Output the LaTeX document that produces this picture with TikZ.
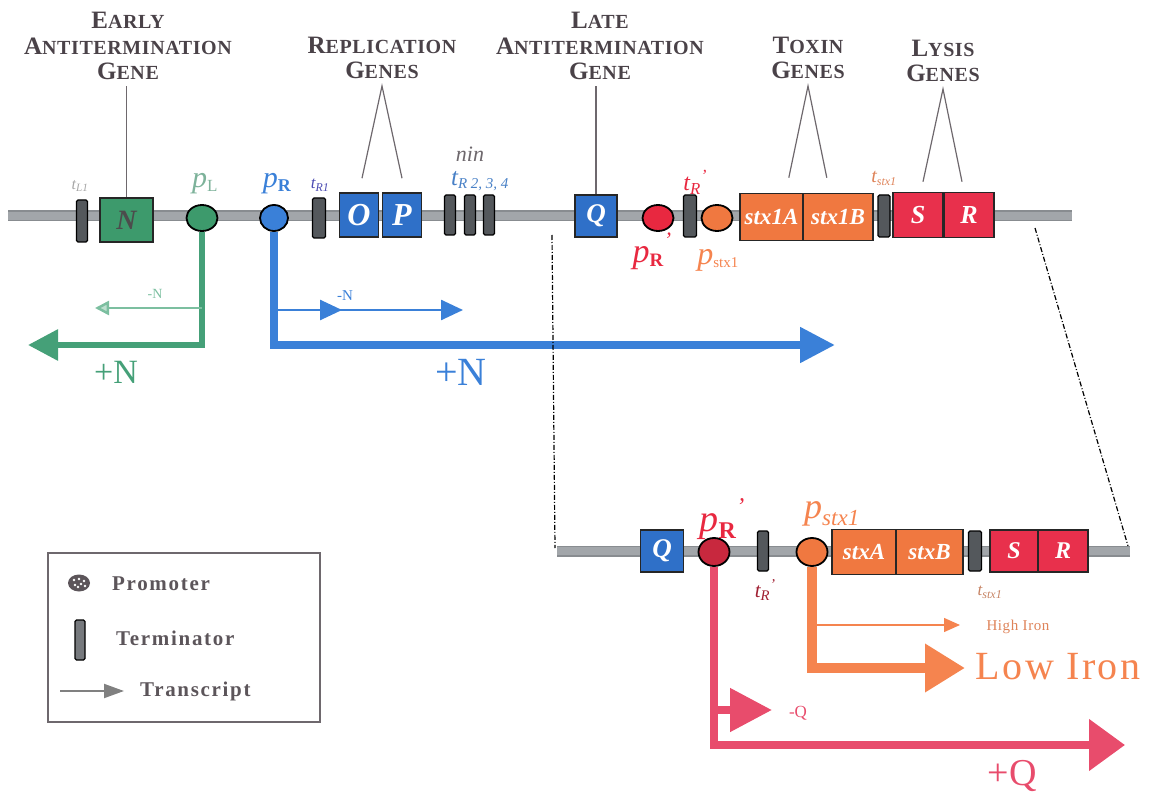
\documentclass[tikz,border=0pt]{standalone}
\usepackage{fontspec}
\setmainfont{Liberation Serif}
\usetikzlibrary{arrows.meta,shapes.geometric,calc,decorations.markings}
\newcommand\fsz[1]{\fontsize{#1}{#1}\selectfont}
\newcommand\capsw[2]{{\fontsize{25}{25.5}\selectfont #1}{\fontsize{20}{25.5}\selectfont #2}}
\definecolor{dnagray}{HTML}{A2A6AA}
\definecolor{dnaedge}{HTML}{888C90}
\definecolor{termgray}{HTML}{54585C}
\definecolor{labgray}{HTML}{4A4248}
\definecolor{gbox}{HTML}{3D9A6C}
\definecolor{garrow}{HTML}{45A078}
\definecolor{glight}{HTML}{7CBFA0}
\definecolor{bbox}{HTML}{2F70C8}
\definecolor{barrow}{HTML}{3A80D8}
\definecolor{rprom}{HTML}{E82840}
\definecolor{rdark}{HTML}{C8283E}
\definecolor{parrow}{HTML}{E84C6C}
\definecolor{obox}{HTML}{F07840}
\definecolor{oarrow}{HTML}{F5844F}
\definecolor{crim}{HTML}{E8304C}
\begin{document}
\begin{tikzpicture}[x=1pt,y=-1pt,
  gene/.style={draw=black!85,line width=1.6pt,inner sep=0pt,minimum height=44pt,
    font=\fsz{30}\bfseries\itshape,text=white},
  term/.style={draw=black,fill=termgray,line width=1.2pt,rounded corners=1.5pt,
    minimum width=11pt,minimum height=40pt,inner sep=0pt},
  prom/.style={ellipse,draw=black,line width=1.8pt,minimum width=31pt,
    minimum height=26pt,inner sep=0pt},
  head/.style={font=\fontsize{20}{25.5}\selectfont\bfseries\addfontfeature{LetterSpace=3},text=labgray,align=center,inner sep=0pt},
  ptr/.style={draw=labgray!80,line width=1.2pt},
  zoomln/.style={draw=black,line width=1.2pt,dash pattern=on 5pt off 2pt on 1pt off 2pt},
  lbl/.style={inner sep=0pt,font=\itshape},
  leg/.style={font=\fsz{21}\bfseries\addfontfeature{LetterSpace=8},text=labgray!90,anchor=west,inner sep=0pt}
]
\useasboundingbox (0,0) rectangle (1151,794);

% ---------- upper DNA ----------
\coordinate (dnaL) at (8,216);
\coordinate (dnaR) at (1072,216);
\draw[dnaedge,line width=11pt] (dnaL) -- (dnaR);
\draw[dnagray,line width=8pt] (dnaL) -- (dnaR);

\node[term,minimum height=42pt] (tL1) at (82,221) {};
\node[gene,fill=gbox,minimum width=53pt,text=black!70,font=\fsz{28}\bfseries\itshape] (N) at (126.5,220) {N};
\node[prom,fill=gbox] (pL) at (202,218) {};
\node[prom,fill=barrow,minimum width=28pt] (pR) at (274,218) {};
\node[term,minimum width=13pt] (tR1) at (319,218) {};
\node[gene,fill=bbox,minimum width=39pt,font=\fsz{32}\bfseries\itshape] (O) at (359,215) {O};
\node[gene,fill=bbox,minimum width=39pt,font=\fsz{32}\bfseries\itshape] (P) at (402,215) {P};
\node[term] (tR2) at (450,215) {};
\node[term] (tR3) at (470,215) {};
\node[term] (tR4) at (489,215) {};
\node[gene,fill=bbox,minimum width=42pt,minimum height=42pt,font=\fsz{27}\bfseries\itshape] (Q) at (596,216) {Q};
\node[prom,fill=rprom] (pRp) at (658,218) {};
\node[term,minimum width=13pt,minimum height=42pt] (tRp) at (690,216) {};
\node[prom,fill=obox] (pS) at (717,218) {};
\node[gene,fill=obox,minimum width=63pt,minimum height=47pt,font=\fsz{23}\bfseries\itshape] (stxIA) at (771.5,217) {stx1A};
\node[gene,fill=obox,minimum width=70pt,minimum height=47pt,font=\fsz{23}\bfseries\itshape] (stxIB) at (838,217) {stx1B};
\node[term,minimum width=12pt,minimum height=42pt] (tstx) at (884,216) {};
\node[gene,fill=crim,minimum width=50pt,minimum height=45pt,font=\fsz{26}\bfseries\itshape] (S) at (918,215) {S};
\node[gene,fill=crim,minimum width=50pt,minimum height=45pt,font=\fsz{26}\bfseries\itshape] (R) at (969,215) {R};

% element labels
\node[lbl,text=gray!70,font=\fsz{16}\itshape] (ltL1) at (80,186) {t\textsubscript{L1}};
\node[lbl,text=glight!80!gray,font=\fsz{30}\itshape] (lpL) at (205,184) {p\textsubscript{\fsz{17}\upshape L}};
\node[lbl,text=barrow,font=\fsz{30}\itshape] (lpR) at (277,184) {p\textsubscript{\fsz{18}\upshape\bfseries R}};
\node[lbl,text=gray!60!blue,font=\fsz{17}\itshape] (ltR1) at (320,185) {t\textsubscript{R1}};
\node[lbl,text=labgray!80,font=\fsz{22}\itshape] (lnin) at (470,154) {nin};
\node[lbl,text=barrow!80!gray,font=\fsz{25}\itshape] (ltR) at (480,181) {t\textsubscript{\fsz{15}R 2, 3, 4}};
\node[lbl,text=rprom,font=\fsz{24}\itshape] (ltRp) at (695,182) {t\textsubscript{R}\raisebox{9pt}{\fsz{17}'}};
\node[lbl,text=rprom,font=\fsz{34}\itshape] (lpRp) at (652,251) {p\textsubscript{\fsz{19}\upshape\bfseries R}\raisebox{15pt}{\fsz{22}'}};
\node[lbl,text=oarrow,font=\fsz{32}\itshape] (lpS) at (718,260) {p\textsubscript{\fsz{15}\upshape stx1}};
\node[lbl,text=oarrow!80!gray,font=\fsz{20}\itshape] (ltstx) at (884,178) {t\textsubscript{\fsz{12}stx1}};

% headings
\node[head] (hEarly) at (128,46) {\capsw{E}{ARLY}\\\capsw{A}{NTITERMINATION}\\\capsw{G}{ENE}};
\node[head] (hRep) at (382,58) {\capsw{R}{EPLICATION}\\\capsw{G}{ENES}};
\node[head] (hLate) at (600,46) {\capsw{L}{ATE}\\\capsw{A}{NTITERMINATION}\\\capsw{G}{ENE}};
\node[head] (hTox) at (808,58) {\capsw{T}{OXIN}\\\capsw{G}{ENES}};
\node[head] (hLys) at (943,61) {\capsw{L}{YSIS}\\\capsw{G}{ENES}};

\draw[ptr] (hEarly.south -| N.north) ++(0,6) -- (N.north);
\draw[ptr] (hLate.south -| Q.north) ++(0,6) -- (Q.north);
\coordinate (repA) at (382,86);
\draw[ptr] ($(O.north)+(3,-14)$) -- (repA) -- ($(P.north)+(0,-14)$);
\coordinate (toxA) at (808,86);
\draw[ptr] ($(stxIA.north east)+(-15,-15)$) -- (toxA) -- ($(stxIA.north east)+(23,-15)$);
\coordinate (lysA) at (943,89);
\draw[ptr] ($(S.north)+(5,-10)$) -- (lysA) -- ($(R.north)+(-7,-10)$);

% ---------- upper transcripts ----------
\coordinate (gEnd) at (28,345);
\draw[garrow,line width=6pt,-{Triangle[length=30pt,width=30pt]}] (pL.south) |- (gEnd);
\coordinate (gThin) at (95,308);
\draw[glight,line width=2.5pt,-{Triangle[length=14pt,width=14pt,open,fill=glight!50]}] (gThin -| pL) -- (gThin);
\node[text=glight,font=\fsz{14}] (gmN) at (155,294) {-N};
\node[text=garrow,font=\fsz{34}] (gpN) at (116,372) {+N};

\coordinate (bEnd) at (835,345);
\draw[barrow,line width=8pt,-{Triangle[length=35pt,width=34pt]}] (pR.south) |- (bEnd);
\coordinate (bThin) at (463,310);
\draw[barrow,line width=2.5pt,-{Triangle[length=22pt,width=20pt]},
  postaction={decorate},decoration={markings,mark=at position 0.36 with {\arrow{Triangle[length=22pt,width=20pt]}}}]
  (bThin -| pR) -- (bThin);
\node[text=barrow,font=\fsz{15}] (bmN) at (345,296) {-N};
\node[text=barrow,font=\fsz{40}] (bpN) at (461,372) {+N};

% ---------- zoom lines ----------
\coordinate (zL1) at (552,235);
\coordinate (zL2) at (555,548);
\coordinate (zR1) at (1035,228);
\coordinate (zR2) at (1128,546);
\draw[zoomln] (zL1) -- (zL2);
\draw[zoomln] (zR1) -- (zR2);

% ---------- lower DNA ----------
\coordinate (dnbL) at (557,551);
\coordinate (dnbR) at (1130,551);
\draw[dnaedge,line width=11pt] (dnbL) -- (dnbR);
\draw[dnagray,line width=8pt] (dnbL) -- (dnbR);

\node[gene,fill=bbox,minimum width=43pt,minimum height=42pt,font=\fsz{27}\bfseries\itshape] (Qb) at (662,551) {Q};
\node[prom,fill=rdark,minimum height=28pt] (pRb) at (714,552) {};
\node[term] (tRb) at (763,551) {};
\node[prom,fill=obox,minimum height=28pt] (pSb) at (812,552) {};
\node[gene,fill=obox,minimum width=64pt,minimum height=45pt,font=\fsz{23}\bfseries\itshape] (stxA) at (864,552) {stxA};
\node[gene,fill=obox,minimum width=67pt,minimum height=45pt,font=\fsz{23}\bfseries\itshape] (stxB) at (929.5,552) {stxB};
\node[term,minimum width=13pt] (tstxb) at (975,551) {};
\node[gene,fill=crim,minimum width=48pt,minimum height=42pt,font=\fsz{24}\bfseries\itshape] (Sb) at (1014,551) {S};
\node[gene,fill=crim,minimum width=50pt,minimum height=42pt,font=\fsz{24}\bfseries\itshape] (Rb) at (1063,551) {R};

\node[lbl,text=rprom,font=\fsz{38}\itshape] (lpRb) at (722,519) {p\textsubscript{\fsz{24}\upshape\bfseries R}\raisebox{17pt}{\fsz{24}'}};
\node[lbl,text=oarrow,font=\fsz{36}\itshape] (lpSb) at (832,514) {p\textsubscript{\fsz{23}stx1}};
\node[lbl,text=rdark!80!black,font=\fsz{21}\itshape] (ltRb) at (765,590) {t\textsubscript{R}\raisebox{8pt}{\fsz{15}'}};
\node[lbl,text=oarrow!60!gray,font=\fsz{17}\itshape] (ltstxb) at (990,592) {t\textsubscript{\fsz{12}stx1}};

% ---------- lower transcripts ----------
\coordinate (qEnd) at (1125,745);
\draw[parrow,line width=8pt,-{Triangle[length=36pt,width=50pt]}] (pRb.south) |- (qEnd);
\coordinate (qShort) at (772,710);
\draw[parrow,line width=8pt,-{Triangle[length=42pt,width=42pt]}] (qShort -| pRb) -- (qShort);
\node[text=parrow,font=\fsz{17}] (lmQ) at (798,713) {-Q};
\node[text=parrow,font=\fsz{38}] (lpQ) at (1012,776) {+Q};

\coordinate (lowEnd) at (965,668);
\draw[oarrow,line width=10pt,-{Triangle[length=40pt,width=46pt]}] (pSb.south) |- (lowEnd);
\coordinate (hiEnd) at (960,625);
\draw[oarrow,line width=1.3pt,-{Triangle[length=16pt,width=14pt]}] (hiEnd -| pSb) -- (hiEnd);
\node[text=oarrow!80!gray,font=\fsz{15}\addfontfeature{LetterSpace=4}] (lHi) at (1018,627) {High Iron};
\node[text=oarrow,font=\fsz{40}\addfontfeature{LetterSpace=6}] (lLow) at (1058,667) {Low Iron};

% ---------- legend ----------
\node[draw=labgray!80,line width=2pt,minimum width=272pt,minimum height=169pt,inner sep=0pt] (legend) at (184,637.5) {};
\node[ellipse,fill=labgray!90,minimum width=22pt,minimum height=17pt,inner sep=0pt] (legProm) at (79,583) {};
\foreach \dx/\dy in {-5/-3,0/-4,5/-2,-4/2,2/1,6/3,-1/4}
  \fill[white] ($(legProm.center)+(\dx,\dy)$) circle (1.3pt);
\node[leg] (legPt) at (112,584) {Promoter};
\node[term,fill=termgray!80,minimum width=10pt,minimum height=40pt] (legTerm) at (80,640) {};
\node[leg] (legTt) at (116,638) {Terminator};
\coordinate (legA) at (60,691);
\coordinate (legB) at (124,691);
\draw[gray,line width=2pt,-{Triangle[length=20pt,width=14pt]}] (legA) -- (legB);
\node[leg] (legTr) at (140,691) {Transcript};
\end{tikzpicture}
\end{document}
